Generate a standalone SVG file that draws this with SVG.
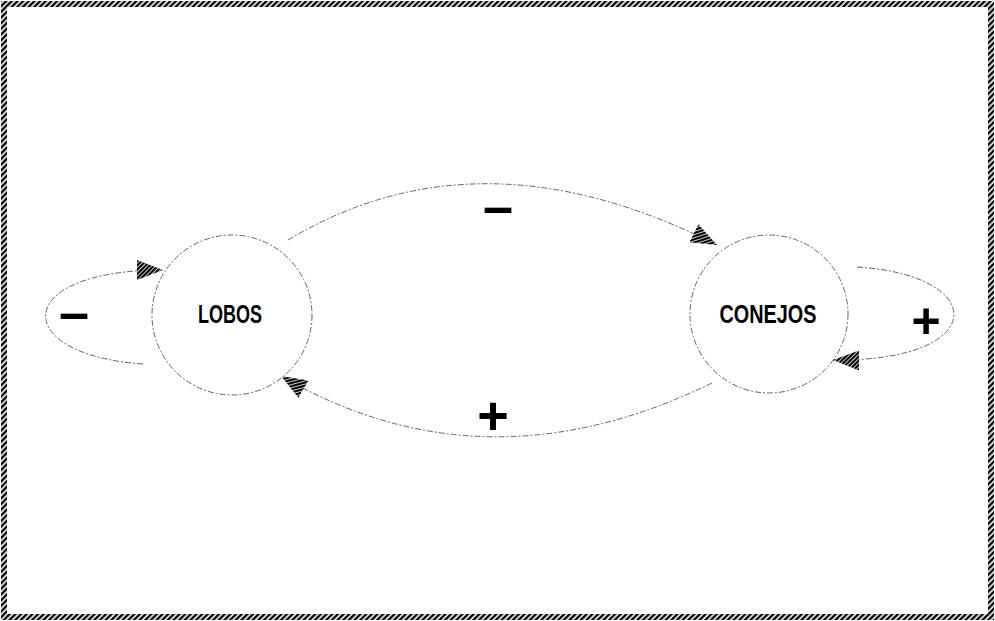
<svg xmlns="http://www.w3.org/2000/svg" width="995" height="621" viewBox="0 0 995 621">
<defs>
<pattern id="hatch" patternUnits="userSpaceOnUse" width="4" height="4" patternTransform="rotate(45)">
<rect width="4" height="4" fill="#ffffff"/>
<rect width="2.4" height="4" fill="#000000"/>
</pattern>
<pattern id="ahatch" patternUnits="userSpaceOnUse" width="3" height="3" patternTransform="rotate(45)">
<rect width="3" height="3" fill="#ffffff"/>
<rect width="2.2" height="3" fill="#000000"/>
</pattern>
<marker id="arr" markerUnits="userSpaceOnUse" markerWidth="30" markerHeight="24" refX="26" refY="10" orient="auto">
<path d="M0,0 L26,10 L0,20 Z" fill="url(#ahatch)"/>
</marker>
</defs>
<style>
.node{fill:#ffffff;stroke:#666666;stroke-width:1;stroke-dasharray:6 2 2 2}
.edge{fill:none;stroke:#666666;stroke-width:1;stroke-dasharray:6 2 2 2;marker-end:url(#arr)}
.lbl{font-family:"Liberation Sans",Arial,sans-serif;font-size:25px;font-weight:bold;fill:#000000;text-anchor:middle}
.sign{font-family:"Liberation Sans",Arial,sans-serif;font-weight:bold;fill:#000000;text-anchor:middle}
</style>
<rect x="0" y="0" width="995" height="621" fill="#ffffff"/>
<rect x="4" y="4" width="987" height="613" fill="none" stroke="url(#hatch)" stroke-width="6"/>
<g id="connectors">
<path class="edge" d="M288,240 Q480,125 717,245"/>
<path class="edge" d="M712,383 Q484,494 281,376"/>
<path class="edge" d="M143,364 C10,355 10,270 163,270"/>
<path class="edge" d="M857,267 C990,275 990,362 833,360"/>
</g>
<g id="lobos">
<circle class="node" cx="232" cy="315" r="80"/>
<text class="lbl" x="230" y="323" textLength="64" lengthAdjust="spacingAndGlyphs">LOBOS</text>
</g>
<g id="conejos">
<circle class="node" cx="769" cy="314" r="79"/>
<text class="lbl" x="768" y="323" textLength="97" lengthAdjust="spacingAndGlyphs">CONEJOS</text>
</g>
<g id="signs">
<text class="sign" x="74" y="331" font-size="54">–</text>
<text class="sign" x="498" y="225" font-size="54">–</text>
<text class="sign" x="926" y="338" font-size="50">+</text>
<text class="sign" x="493" y="434" font-size="54">+</text>
</g>
</svg>
